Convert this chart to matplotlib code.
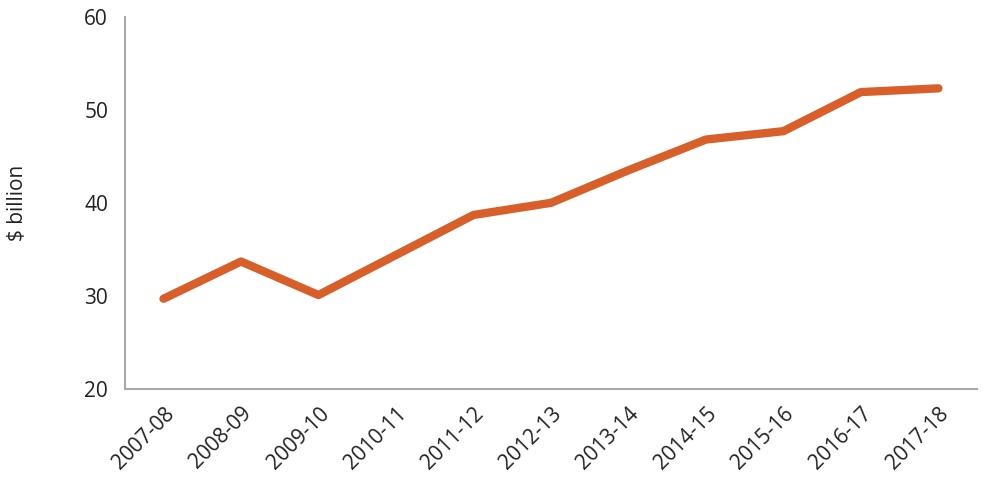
import matplotlib
matplotlib.use("Agg")
import matplotlib.pyplot as plt

years = ["2007-08","2008-09","2009-10","2010-11","2011-12","2012-13","2013-14","2014-15","2015-16","2016-17","2017-18"]
values = [29.7, 33.7, 30.1, 34.4, 38.7, 40.0, 43.5, 46.8, 47.7, 51.9, 52.3]

plt.rcParams['font.family'] = ['Open Sans', 'DejaVu Sans']
fig = plt.figure(figsize=(9.9, 4.9), dpi=100)
ax = fig.add_axes([0.126, 0.206, 0.861, 0.76])
x = list(range(len(years)))
ax.plot(x, values, color='#D95F2A', lw=6, solid_capstyle='round', solid_joinstyle='round')
ax.set_xlim(-0.5, 10.5)
ax.set_ylim(20, 60)
ax.set_yticks([20, 30, 40, 50, 60])
ax.set_xticks(x)
ax.set_xticklabels(years, rotation=45, ha='right', rotation_mode='anchor')
ax.tick_params(axis='both', length=0, labelsize=15, colors='#222222')
ax.tick_params(axis='y', pad=12)
ax.tick_params(axis='x', pad=10)
for s in ['top', 'right']:
    ax.spines[s].set_visible(False)
for s in ['left', 'bottom']:
    ax.spines[s].set_color('#AAAAAA')
    ax.spines[s].set_linewidth(1.5)
ax.set_ylabel('$ billion', fontsize=15, color='#222222')
ax.yaxis.set_label_coords(-0.114, 0.5)
fig.savefig('out.png', dpi=100)
